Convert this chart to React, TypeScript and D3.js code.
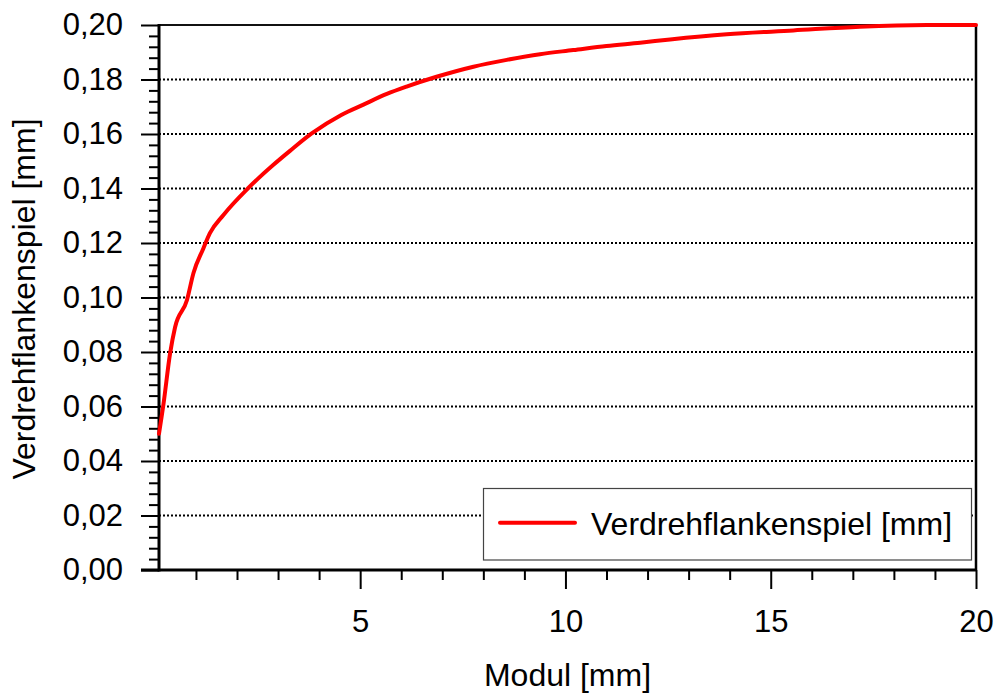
import * as d3 from "d3";
import React, { useEffect, useRef } from "react";

// Modul [mm] vs Verdrehflankenspiel [mm]
const modul = [0.1, 0.21, 0.37, 0.49, 0.78, 0.94, 1.18, 1.34, 1.67, 2.27, 2.88, 3.29, 3.82, 4.54, 5.08, 5.65, 6.13, 6.86, 7.76, 8.57, 9.38, 10.19, 11.0, 11.82, 12.55, 13.93, 15.55, 17.17, 18.8, 20];
const spiel = [0.05, 0.061, 0.0795, 0.089, 0.099, 0.109, 0.118, 0.1236, 0.1303, 0.1401, 0.1486, 0.1538, 0.1602, 0.167, 0.1708, 0.1747, 0.1774, 0.181, 0.1847, 0.1872, 0.1893, 0.1908, 0.1923, 0.1935, 0.1947, 0.1966, 0.198, 0.1994, 0.2, 0.2];

const xMajor = [5, 10, 15, 20];
const xMinor = [1, 2, 3, 4, 6, 7, 8, 9, 11, 12, 13, 14, 16, 17, 18, 19];
const yMajor = [0, 0.02, 0.04, 0.06, 0.08, 0.1, 0.12, 0.14, 0.16, 0.18, 0.2];
const yGrid = [0.02, 0.04, 0.06, 0.08, 0.1, 0.12, 0.14, 0.16, 0.18];

const xTitle = "Modul [mm]";
const yTitle = "Verdrehflankenspiel [mm]";
const seriesName = "Verdrehflankenspiel [mm]";

const FONT = "'Liberation Sans', Arial, sans-serif";

const App = () => {
  const ref = useRef<SVGSVGElement>(null);

  useEffect(() => {
    const width = 1000;
    const height = 694;
    const left = 159, right = 976, top = 25, bottom = 570;

    const x = d3.scaleLinear().domain([0.1, 20]).range([left, right]);
    const y = d3.scaleLinear().domain([0, 0.2]).range([bottom, top]);

    const yMinor: number[] = [];
    for (let i = 0; i < yMajor.length - 1; i++) {
      for (let k = 1; k < 5; k++) yMinor.push(yMajor[i] + (yMajor[i + 1] - yMajor[i]) * k / 5);
    }

    const fmt = d3.formatLocale({ decimal: ",", thousands: ".", grouping: [3], currency: ["", "€"] }).format(".2f");

    const svg = d3.select(ref.current);
    svg.selectAll("*").remove();
    svg.attr("width", width).attr("height", height);

    svg.append("rect").attr("width", width).attr("height", height).attr("fill", "white");

    // grid
    svg.append("g").selectAll("line").data(yGrid).enter().append("line")
      .attr("x1", left).attr("x2", right)
      .attr("y1", d => y(d)).attr("y2", d => y(d))
      .attr("stroke", "black").attr("stroke-width", 2).attr("stroke-dasharray", "2,2");

    // y axis
    const yAxisMajor = d3.axisLeft(y).tickValues(yMajor).tickSize(18).tickSizeOuter(0).tickPadding(18).tickFormat(d => fmt(d as number));
    const yAxisMinor = d3.axisLeft(y).tickValues(yMinor).tickSize(10).tickSizeOuter(0).tickFormat(() => "");
    const gy = svg.append("g").attr("transform", `translate(${left},0)`).call(yAxisMajor);
    const gy2 = svg.append("g").attr("transform", `translate(${left},0)`).call(yAxisMinor);

    // x axis
    const xAxisMajor = d3.axisBottom(x).tickValues(xMajor).tickSize(19).tickSizeOuter(0).tickPadding(21).tickFormat(d => String(d));
    const xAxisMinor = d3.axisBottom(x).tickValues(xMinor).tickSize(10).tickSizeOuter(0).tickFormat(() => "");
    const gx = svg.append("g").attr("transform", `translate(0,${bottom})`).call(xAxisMajor);
    const gx2 = svg.append("g").attr("transform", `translate(0,${bottom})`).call(xAxisMinor);

    [gy, gy2, gx, gx2].forEach(g => {
      g.select(".domain").remove();
      g.selectAll(".tick line").attr("stroke", "black").attr("stroke-width", 2);
      g.selectAll(".tick text").attr("fill", "black").style("font-family", FONT).style("font-size", "31px");
    });

    // frame
    svg.append("line").attr("x1", left).attr("x2", right + 1).attr("y1", top).attr("y2", top)
      .attr("stroke", "#111").attr("stroke-width", 2);
    svg.append("line").attr("x1", right).attr("x2", right).attr("y1", top).attr("y2", bottom)
      .attr("stroke", "black").attr("stroke-width", 2.5);
    svg.append("line").attr("x1", left).attr("x2", left).attr("y1", top - 1).attr("y2", bottom + 1.5)
      .attr("stroke", "black").attr("stroke-width", 3);
    svg.append("line").attr("x1", left - 18).attr("x2", right + 1).attr("y1", bottom).attr("y2", bottom)
      .attr("stroke", "black").attr("stroke-width", 3);

    // curve
    const pts: [number, number][] = modul.map((m, i) => [m, spiel[i]]);
    const line = d3.line<[number, number]>().x(d => x(d[0])).y(d => y(d[1])).curve(d3.curveMonotoneX);
    svg.append("path").datum(pts).attr("d", line)
      .attr("fill", "none").attr("stroke", "#ff0000").attr("stroke-width", 4)
      .attr("stroke-linejoin", "round").attr("stroke-linecap", "round");

    // legend
    const lg = svg.append("g");
    lg.append("rect").attr("x", 483.5).attr("y", 488.5).attr("width", 488).attr("height", 71.5)
      .attr("fill", "white").attr("stroke", "#444").attr("stroke-width", 1.2);
    lg.append("line").attr("x1", 500).attr("x2", 575).attr("y1", 522.7).attr("y2", 522.7)
      .attr("stroke", "#ff0000").attr("stroke-width", 4).attr("stroke-linecap", "round");
    lg.append("text").attr("x", 591).attr("y", 535).text(seriesName)
      .style("font-family", FONT).style("font-size", "32px").attr("fill", "black");

    // titles
    svg.append("text").attr("x", 567.5).attr("y", 686).attr("text-anchor", "middle").text(xTitle)
      .style("font-family", FONT).style("font-size", "32px").attr("fill", "black");
    svg.append("text").attr("transform", "translate(35,299) rotate(-90)").attr("text-anchor", "middle").text(yTitle)
      .style("font-family", FONT).style("font-size", "32px").attr("fill", "black");
  }, []);

  return (
    <svg ref={ref} style={{ position: "absolute", left: 0, top: 0, display: "block" }} />
  );
};

export default App;
